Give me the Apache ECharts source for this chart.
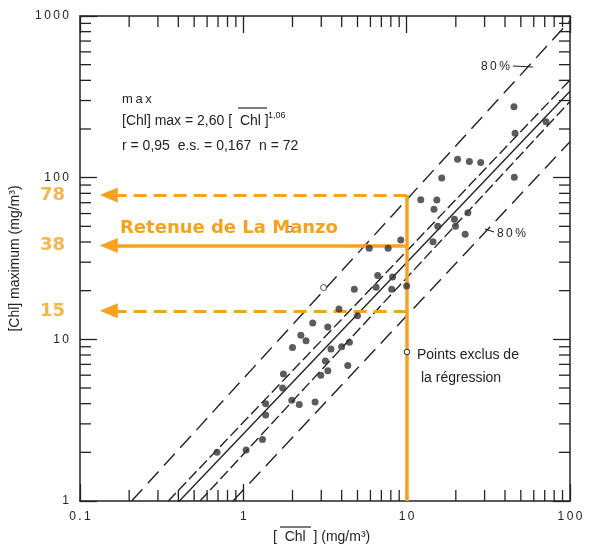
<!DOCTYPE html>
<html>
<head>
<meta charset="utf-8">
<script src="https://cdn.jsdelivr.net/npm/echarts@6/dist/echarts.min.js"></script>
<style>
  html, body { margin: 0; padding: 0; background: #fff; }
  #chart { width: 589px; height: 545px; }
</style>
</head>
<body>
<div id="chart"></div>
<script>
// Mean chlorophyll [Chl] (mg/m3) against the maximum observed (mg/m3), both on log scales
const chlMean = [0.69, 1.04, 1.31, 1.37, 1.37, 1.76, 1.74, 1.98, 2.2, 2.75,
  2.0, 2.25, 2.42, 2.66, 3.29, 2.98, 3.18, 3.29, 3.44, 4.0,
  4.46, 4.36, 3.85, 5.0, 4.78, 6.5, 6.65, 8.2, 8.1, 10.0,
  5.9, 7.7, 9.2, 12.2, 15.3, 14.7, 15.5, 14.5, 19.6, 19.9,
  23.7, 22.8, 16.4, 20.5, 24.2, 28.4, 45.6, 45.4, 46.1, 71.3];
const chlMax = [2.0, 2.07, 2.4, 4.0, 3.4, 6.1, 5.0, 4.2, 3.95, 4.1,
  8.9, 10.6, 9.8, 12.6, 11.9, 6.0, 7.35, 6.4, 8.7, 9.0,
  9.6, 6.9, 15.4, 14.0, 20.4, 21.0, 24.8, 24.3, 20.4, 21.4,
  36.6, 36.6, 41.2, 73.0, 72.8, 63.7, 50.0, 40.2, 55.3, 50.0,
  60.7, 44.6, 99.5, 130, 126, 124, 100.5, 275, 188, 222];

// Points left out of the regression
const excludedMean = [3.1, 1.93];
const excludedMax = [20.9, 48];

// Regression: [Chl]max = 2,60 [Chl]^1,06
const regCoef = 2.60;
const regExp = 1.06;
const regRange = [0.3, 100];

// Confidence lines and 80 % lines, as [mean, max] end points
const upperBand80 = [[0.207, 1], [100, 934]];
const upperCI = [[0.347, 1], [100, 402]];
const lowerCI = [[0.543, 1], [100, 296]];
const lowerBand80 = [[0.864, 1], [100, 167]];

// La Manzo reservoir reading
const manzoMean = 10;
const manzoMax = [78, 38, 15];

// Axis ticks
const xTickLabels = ['0.1', '1', '10', '100'];
const yTickLabels = ['1', '10', '100', '1000'];
const xMinorTicks = [0.2, 0.3, 0.4, 0.5, 0.6, 0.7, 0.8, 0.9,
  2, 3, 4, 5, 6, 7, 8, 9, 20, 30, 40, 50, 60, 70, 80, 90];
const yMinorTicks = [2, 3, 4, 5, 6, 7, 8, 9, 20, 30, 40, 50, 60, 70, 80, 90,
  200, 300, 400, 500, 600, 700, 800, 900];

const X_MIN = 0.1, X_MAX = 100, Y_MIN = 1, Y_MAX = 1000;
const INK = '#232323';
const ORANGE = '#F6A21E';
const FONT = '"Liberation Sans", Arial, sans-serif';
const BOLD = '"DejaVu Sans", Verdana, sans-serif';
const spaced = s => s.split('').join('\u2009');
const tickLabel = (labels, base) => v => spaced(labels[Math.round(Math.log10(v) - Math.log10(base))] || '');

const chart = echarts.init(document.getElementById('chart'), null, { renderer: 'canvas' });

function bandSeries(name, pts, dash) {
  return {
    type: 'line', name, data: pts, showSymbol: false, silent: true, z: 3,
    lineStyle: { color: INK, width: 1.4, type: dash }
  };
}

function minorTickSeries(axis) {
  const vals = axis === 'x' ? xMinorTicks : yMinorTicks;
  return {
    type: 'custom', silent: true, clip: false, z: 4,
    data: vals.map(v => axis === 'x' ? [v, Y_MIN] : [X_MIN, v]),
    renderItem: (params, api) => {
      const len = 11;
      const style = { stroke: INK, lineWidth: 1.3 };
      if (axis === 'x') {
        const v = api.value(0);
        const b = api.coord([v, Y_MIN]);
        const t = api.coord([v, Y_MAX]);
        return { type: 'group', children: [
          { type: 'line', shape: { x1: b[0], y1: b[1], x2: b[0], y2: b[1] - len }, style },
          { type: 'line', shape: { x1: t[0], y1: t[1], x2: t[0], y2: t[1] + len }, style }
        ] };
      }
      const v = api.value(1);
      const l = api.coord([X_MIN, v]);
      const r = api.coord([X_MAX, v]);
      return { type: 'group', children: [
        { type: 'line', shape: { x1: l[0], y1: l[1], x2: l[0] + len, y2: l[1] }, style },
        { type: 'line', shape: { x1: r[0], y1: r[1], x2: r[0] - len, y2: r[1] }, style }
      ] };
    }
  };
}

const logAxis = (min, max, extra) => Object.assign({
  type: 'log', logBase: 10, min, max,
  splitLine: { show: false },
  axisLine: { show: true, lineStyle: { color: INK, width: 1.5 } },
  axisTick: { show: true, inside: true, length: 17, lineStyle: { color: INK, width: 1.3 } },
  minorTick: { show: false }
}, extra);

const arrowEnd = 0.15;
const dashedOrange = { color: ORANGE, width: 3, type: [13, 7] };
const solidOrange = { color: ORANGE, width: 3.5, type: 'solid' };

const option = {
  animation: false,
  backgroundColor: '#fff',
  grid: { left: 80, right: 19, top: 16, bottom: 44 },
  xAxis: [
    logAxis(X_MIN, X_MAX, {
      position: 'bottom',
      axisLabel: { show: true, margin: 10, color: INK, fontFamily: FONT, fontSize: 12,
        formatter: tickLabel(xTickLabels, X_MIN) }
    }),
    logAxis(X_MIN, X_MAX, { position: 'top', axisLabel: { show: false } })
  ],
  yAxis: [
    logAxis(Y_MIN, Y_MAX, {
      position: 'left',
      name: '[Chl] maximum (mg/m\u00B3)',
      nameLocation: 'middle', nameGap: 58, nameRotate: 90,
      nameTextStyle: { color: INK, fontFamily: FONT, fontSize: 14 },
      axisLabel: { show: true, margin: 11, color: INK, fontFamily: FONT, fontSize: 12,
        formatter: tickLabel(yTickLabels, Y_MIN) }
    }),
    logAxis(Y_MIN, Y_MAX, { position: 'right', axisLabel: { show: false } })
  ],
  series: [
    minorTickSeries('x'),
    minorTickSeries('y'),
    bandSeries('80% sup', upperBand80, [16, 8]),
    bandSeries('IC sup', upperCI, [11, 4]),
    {
      type: 'line', name: 'Régression', showSymbol: false, silent: true, z: 3,
      data: regRange.map(x => [x, regCoef * Math.pow(x, regExp)]),
      lineStyle: { color: INK, width: 1.4, type: 'solid' }
    },
    bandSeries('IC inf', lowerCI, [11, 4]),
    bandSeries('80% inf', lowerBand80, [16, 8]),
    {
      type: 'scatter', name: 'Retenues', z: 5, silent: true,
      data: chlMean.map((x, i) => [x, chlMax[i]]),
      symbol: 'circle', symbolSize: 7,
      itemStyle: { color: '#333' }
    },
    {
      type: 'scatter', name: 'Points exclus de la régression', z: 5, silent: true,
      data: excludedMean.map((x, i) => [x, excludedMax[i]]),
      symbol: 'circle', symbolSize: 6,
      itemStyle: { color: '#fff', borderColor: INK, borderWidth: 1 }
    },
    {
      type: 'line', name: 'Retenue de La Manzo', data: [], z: 8, silent: true,
      markLine: {
        silent: true, animation: false,
        symbol: ['none', 'triangle'], symbolSize: [15, 18],
        label: { show: false },
        emphasis: { disabled: true },
        lineStyle: { color: ORANGE, width: 3.5, type: 'solid' },
        data: [
          [{ coord: [manzoMean, Y_MIN], symbol: 'none', lineStyle: solidOrange },
           { coord: [manzoMean, manzoMax[0]], symbol: 'none' }],
          [{ coord: [manzoMean, manzoMax[0]], symbol: 'none', lineStyle: dashedOrange },
           { coord: [arrowEnd, manzoMax[0]] }],
          [{ coord: [manzoMean, manzoMax[1]], symbol: 'none', lineStyle: solidOrange },
           { coord: [arrowEnd, manzoMax[1]] }],
          [{ coord: [manzoMean, manzoMax[2]], symbol: 'none', lineStyle: dashedOrange },
           { coord: [arrowEnd, manzoMax[2]] }]
        ],
        itemStyle: { color: ORANGE }
      }
    },
    {
      type: 'scatter', name: 'valeurs', z: 9, silent: true, clip: false,
      data: manzoMax.map(v => [X_MIN, v]),
      symbolSize: 0,
      label: {
        show: true, position: 'left', distance: 15,
        formatter: p => String(p.value[1]),
        color: ORANGE, fontFamily: BOLD, fontWeight: 'bold', fontSize: 18
      }
    }
  ],
  graphic: [
    // regression statistics
    { type: 'text', x: 122, y: 99, z: 10, style: { text: spaced('max'), font: '13px ' + FONT, fill: INK, textVerticalAlign: 'middle', verticalAlign: 'middle' } },
    { type: 'text', x: 122, y: 121, z: 10, style: { text: '[Chl] max = 2,60 [  Chl ]', font: '14px ' + FONT, fill: INK, textVerticalAlign: 'middle', verticalAlign: 'middle' } },
    { type: 'text', x: 268, y: 116, z: 10, style: { text: '1,06', font: '9px ' + FONT, fill: INK, textVerticalAlign: 'middle', verticalAlign: 'middle' } },
    { type: 'line', z: 10, shape: { x1: 238, y1: 108, x2: 267, y2: 108 }, style: { stroke: INK, lineWidth: 1.2 } },
    { type: 'text', x: 122, y: 146, z: 10, style: { text: 'r = 0,95  e.s. = 0,167  n = 72', font: '14px ' + FONT, fill: INK, textVerticalAlign: 'middle', verticalAlign: 'middle' } },
    // 80 % labels with leaders
    { type: 'text', x: 481, y: 67, z: 10, style: { text: spaced('80%'), font: '12px ' + FONT, fill: INK, textVerticalAlign: 'middle', verticalAlign: 'middle' } },
    { type: 'line', z: 10, shape: { x1: 513, y1: 66, x2: 533, y2: 67 }, style: { stroke: INK, lineWidth: 1.2 } },
    { type: 'text', x: 497, y: 234, z: 10, style: { text: spaced('80%'), font: '12px ' + FONT, fill: INK, textVerticalAlign: 'middle', verticalAlign: 'middle' } },
    { type: 'line', z: 10, shape: { x1: 485, y1: 229, x2: 494, y2: 232 }, style: { stroke: INK, lineWidth: 1.2 } },
    // excluded-point key
    { type: 'circle', z: 10, shape: { cx: 407, cy: 352, r: 2.8 }, style: { fill: '#fff', stroke: INK, lineWidth: 1 } },
    { type: 'text', x: 417, y: 355, z: 10, style: { text: 'Points exclus de', font: '14px ' + FONT, fill: INK, textVerticalAlign: 'middle', verticalAlign: 'middle' } },
    { type: 'text', x: 421, y: 378, z: 10, style: { text: 'la régression', font: '14px ' + FONT, fill: INK, textVerticalAlign: 'middle', verticalAlign: 'middle' } },
    // x axis title with overlined Chl
    { type: 'text', x: 273, y: 537, z: 10, style: { text: '[  Chl  ] (mg/m\u00B3)', font: '14px ' + FONT, fill: INK, textVerticalAlign: 'middle', verticalAlign: 'middle' } },
    { type: 'line', z: 10, shape: { x1: 280, y1: 527, x2: 311, y2: 527 }, style: { stroke: INK, lineWidth: 1.2 } },
    // reservoir name
    { type: 'text', x: 120, y: 228, z: 12, style: { text: 'Retenue de La Manzo', font: 'bold 18px ' + BOLD, fill: ORANGE, textVerticalAlign: 'middle', verticalAlign: 'middle' } }
  ]
};

chart.setOption(option);
</script>
</body>
</html>
